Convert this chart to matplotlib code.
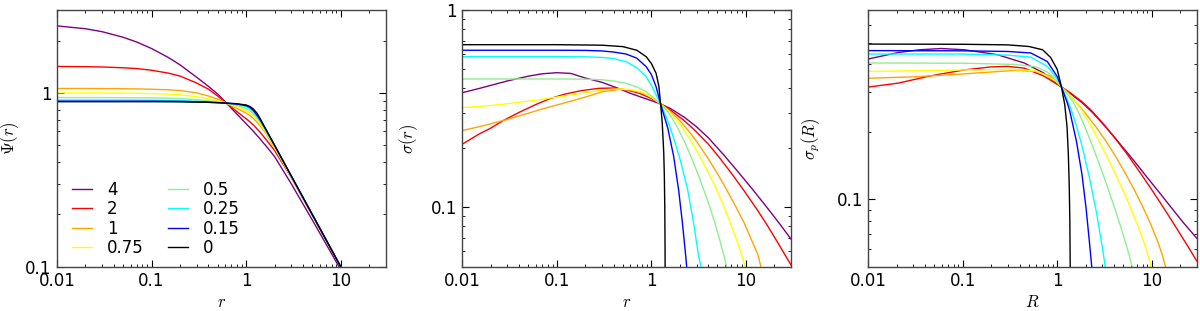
import matplotlib
matplotlib.use('Agg')
import matplotlib.pyplot as plt
from matplotlib.ticker import FuncFormatter, NullFormatter, LogLocator

# parameter values and their colours (legend order)
labels = ['4', '2', '1', '0.75', '0.5', '0.25', '0.15', '0']
colors = ['purple', 'red', 'orange', 'yellow', 'lightgreen', 'cyan', 'blue', 'black']

# --- panel 1: potential Psi(r), common radius grid ---
r_psi = [0.01, 0.02, 0.03, 0.05, 0.07, 0.1, 0.15, 0.2, 0.3, 0.4, 0.5, 0.62, 0.8,
         1.0, 1.1, 1.2, 1.3, 1.4, 1.5, 1.6, 2.0, 3.0, 5.0, 7.0, 10.0, 11.0]
psi_4 = [2.43, 2.34, 2.25, 2.09, 1.96, 1.8, 1.6, 1.45, 1.23, 1.09, 0.985, 0.873, 0.755,
         0.665, 0.63, 0.6, 0.57, 0.545, 0.52, 0.5, 0.43, 0.3, 0.186, 0.135, 0.096, 0.087]
psi_2 = [1.42, 1.415, 1.41, 1.395, 1.38, 1.35, 1.3, 1.25, 1.14, 1.05, 0.96, 0.873, 0.78,
         0.71, 0.68, 0.652, 0.622, 0.595, 0.568, 0.545, 0.466, 0.327, 0.198, 0.142, 0.099, 0.09]
psi_1 = [1.06, 1.06, 1.059, 1.057, 1.054, 1.05, 1.042, 1.032, 1.0, 0.96, 0.92, 0.873, 0.815,
         0.765, 0.74, 0.71, 0.68, 0.648, 0.618, 0.59, 0.481, 0.328, 0.199, 0.142, 0.1, 0.091]
psi_075 = [1.0, 1.0, 0.999, 0.997, 0.995, 0.991, 0.984, 0.975, 0.95, 0.925, 0.9, 0.873, 0.83,
           0.79, 0.765, 0.735, 0.7, 0.665, 0.63, 0.6, 0.487, 0.329, 0.199, 0.142, 0.1, 0.091]
psi_05 = [0.94, 0.94, 0.94, 0.939, 0.938, 0.936, 0.932, 0.927, 0.914, 0.9, 0.887, 0.873, 0.847,
          0.815, 0.79, 0.758, 0.72, 0.683, 0.645, 0.61, 0.494, 0.332, 0.2, 0.143, 0.1, 0.091]
psi_025 = [0.91, 0.91, 0.91, 0.91, 0.909, 0.908, 0.906, 0.903, 0.896, 0.889, 0.882, 0.873, 0.858,
           0.835, 0.81, 0.775, 0.735, 0.695, 0.655, 0.617, 0.497, 0.333, 0.2, 0.143, 0.1, 0.091]
psi_015 = [0.896, 0.896, 0.896, 0.896, 0.896, 0.896, 0.895, 0.894, 0.889, 0.884, 0.879, 0.873, 0.863,
           0.845, 0.825, 0.79, 0.745, 0.703, 0.66, 0.621, 0.499, 0.333, 0.2, 0.143, 0.1, 0.091]
psi_0 = [0.89, 0.89, 0.89, 0.89, 0.89, 0.89, 0.889, 0.888, 0.885, 0.882, 0.878, 0.873, 0.866,
         0.852, 0.835, 0.805, 0.765, 0.716, 0.667, 0.625, 0.5, 0.333, 0.2, 0.143, 0.1, 0.091]
psi_all = [psi_4, psi_2, psi_1, psi_075, psi_05, psi_025, psi_015, psi_0]

# --- panel 2: sigma(r), each curve on its own radii ---
sr_4 = [0.01, 0.015, 0.02, 0.03, 0.05, 0.07, 0.1, 0.14, 0.2, 0.3, 0.45, 0.6, 0.8, 1.0, 1.25,
        1.6, 2.23, 2.97, 4.0, 5.9, 8.0, 11.7, 16.0, 21.5, 30.0]
s_4 = [0.381, 0.4, 0.415, 0.437, 0.462, 0.475, 0.481, 0.477, 0.452, 0.43, 0.4, 0.378, 0.36, 0.347, 0.334,
       0.316, 0.286, 0.257, 0.225, 0.183, 0.154, 0.1236, 0.1024, 0.0854, 0.069]
sr_2 = [0.01, 0.015, 0.02, 0.027, 0.04, 0.06, 0.084, 0.12, 0.18, 0.28, 0.4, 0.55, 0.75, 1.0, 1.25,
        1.6, 2.14, 2.8, 4.0, 5.22, 7.0, 9.59, 13.0, 16.3, 21.0, 26.4, 30.0]
s_2 = [0.209, 0.235, 0.252, 0.275, 0.303, 0.332, 0.355, 0.374, 0.39, 0.401, 0.402, 0.393, 0.378, 0.356, 0.334,
       0.31, 0.279, 0.249, 0.209, 0.179, 0.149, 0.121, 0.098, 0.083, 0.068, 0.0565, 0.051]
sr_1 = [0.01, 0.015, 0.02, 0.03, 0.05, 0.07, 0.1, 0.15, 0.2, 0.3, 0.46, 0.6, 0.8, 1.0, 1.25,
        1.5, 1.94, 2.42, 3.0, 3.94, 5.0, 6.14, 7.7, 9.44, 11.5, 13.3, 14.4, 15.5]
s_1 = [0.245, 0.256, 0.265, 0.279, 0.3, 0.315, 0.33, 0.348, 0.362, 0.385, 0.396, 0.393, 0.38, 0.36, 0.334,
       0.313, 0.279, 0.247, 0.216, 0.178, 0.148, 0.1246, 0.102, 0.0846, 0.068, 0.058, 0.05, 0.044]
sr_075 = [0.01, 0.02, 0.03, 0.05, 0.1, 0.2, 0.3, 0.45, 0.6, 0.8, 1.0, 1.25, 1.5, 1.78, 2.14,
          2.6, 3.21, 4.0, 4.74, 5.6, 6.67, 8.0, 9.06, 9.82, 10.5]
s_075 = [0.32, 0.328, 0.335, 0.345, 0.362, 0.38, 0.393, 0.398, 0.395, 0.383, 0.362, 0.334, 0.309, 0.283, 0.252,
         0.219, 0.183, 0.15, 0.127, 0.106, 0.086, 0.068, 0.057, 0.05, 0.0445]
sr_05 = [0.01, 0.1, 0.2, 0.3, 0.4, 0.54, 0.7, 0.88, 1.05, 1.25, 1.45, 1.64, 1.9, 2.25, 2.63,
         3.1, 3.57, 4.1, 4.7, 5.3, 5.9, 6.29, 6.6]
s_05 = [0.447, 0.447, 0.446, 0.443, 0.436, 0.425, 0.407, 0.385, 0.36, 0.334, 0.31, 0.285, 0.252, 0.214, 0.18,
        0.148, 0.123, 0.102, 0.083, 0.068, 0.056, 0.049, 0.044]
sr_025 = [0.01, 0.1, 0.2, 0.3, 0.4, 0.54, 0.7, 0.88, 1.0, 1.12, 1.25, 1.4, 1.55, 1.7, 1.85,
          2.03, 2.42, 2.8, 3.16, 3.35, 3.5]
s_025 = [0.58, 0.58, 0.579, 0.575, 0.567, 0.547, 0.51, 0.459, 0.415, 0.372, 0.334, 0.295, 0.26, 0.228, 0.2,
         0.172, 0.1225, 0.083, 0.0562, 0.05, 0.046]
sr_015 = [0.01, 0.1, 0.2, 0.3, 0.4, 0.54, 0.7, 0.88, 1.0, 1.12, 1.2, 1.25, 1.35, 1.49, 1.72,
          1.94, 2.13, 2.31, 2.36, 2.42]
s_015 = [0.625, 0.625, 0.624, 0.62, 0.612, 0.598, 0.57, 0.516, 0.47, 0.409, 0.36, 0.334, 0.295, 0.252, 0.181,
         0.1225, 0.083, 0.0562, 0.05, 0.044]
sr_0 = [0.01, 0.1, 0.3, 0.5, 0.7, 0.88, 1.0, 1.12, 1.2, 1.25, 1.3, 1.35, 1.37, 1.385, 1.395, 1.399]
s_0 = [0.667, 0.667, 0.663, 0.652, 0.625, 0.58, 0.535, 0.478, 0.41, 0.334, 0.27, 0.19, 0.145, 0.1, 0.06, 0.027]
sig_r = [sr_4, sr_2, sr_1, sr_075, sr_05, sr_025, sr_015, sr_0]
sig_v = [s_4, s_2, s_1, s_075, s_05, s_025, s_015, s_0]

# --- panel 3: projected sigma_p(R) ---
pr_4 = [0.01, 0.0207, 0.035, 0.059, 0.104, 0.233, 0.447, 0.72, 1.11, 1.4, 1.83, 2.34, 3.3,
        4.65, 6.5, 9.22, 13.0, 16.9, 22.0, 30.0]
p_4 = [0.423, 0.452, 0.465, 0.471, 0.465, 0.442, 0.406, 0.366, 0.317, 0.295, 0.27, 0.245, 0.209,
       0.176, 0.1485, 0.1233, 0.103, 0.0895, 0.078, 0.067]
pr_2 = [0.01, 0.0207, 0.046, 0.104, 0.2, 0.3, 0.447, 0.72, 1.11, 1.4, 1.8, 2.24, 3.0, 4.11,
        5.5, 7.54, 10.0, 12.8, 16.5, 20.7, 25.0, 30.0]
p_2 = [0.317, 0.33, 0.356, 0.378, 0.39, 0.392, 0.385, 0.355, 0.317, 0.297, 0.274, 0.252, 0.22, 0.187,
       0.159, 0.1315, 0.1104, 0.0942, 0.0797, 0.0684, 0.0602, 0.053]
pr_1 = [0.01, 0.03, 0.104, 0.35, 0.6, 0.85, 1.11, 1.35, 1.66, 1.99, 2.6, 3.23, 4.1, 5.16, 6.5,
        7.98, 9.8, 11.8, 13.0, 14.1, 15.0]
p_1 = [0.347, 0.352, 0.363, 0.376, 0.372, 0.355, 0.317, 0.292, 0.265, 0.242, 0.209, 0.1835, 0.1565,
       0.1325, 0.1107, 0.0932, 0.0772, 0.0635, 0.056, 0.0495, 0.0445]
pr_075 = [0.01, 0.104, 0.35, 0.6, 0.785, 1.0, 1.11, 1.3, 1.56, 1.83, 2.3, 2.75, 3.4, 4.11, 5.0,
          5.92, 7.0, 8.18, 9.0, 9.85, 10.5]
p_075 = [0.372, 0.378, 0.38, 0.374, 0.355, 0.333, 0.317, 0.298, 0.273, 0.249, 0.211, 0.183, 0.1535,
         0.1303, 0.1088, 0.0924, 0.0777, 0.0652, 0.0575, 0.0503, 0.045]
pr_05 = [0.01, 0.1, 0.35, 0.6, 0.785, 0.9, 1.0, 1.11, 1.3, 1.46, 1.66, 1.95, 2.3, 2.7, 3.1, 3.6,
         4.11, 4.7, 5.33, 5.9, 6.31, 6.7]
p_05 = [0.406, 0.405, 0.4, 0.39, 0.37, 0.353, 0.336, 0.317, 0.293, 0.273, 0.247, 0.212, 0.178, 0.149,
        0.127, 0.106, 0.0898, 0.0754, 0.0633, 0.0544, 0.0488, 0.0438]
pr_025 = [0.01, 0.1, 0.3, 0.525, 0.785, 1.0, 1.11, 1.25, 1.4, 1.6, 1.83, 2.21, 2.6, 2.98, 3.28, 3.4]
p_025 = [0.445, 0.445, 0.44, 0.431, 0.392, 0.345, 0.317, 0.284, 0.252, 0.212, 0.173, 0.123, 0.0875,
         0.0623, 0.0476, 0.0427]
pr_015 = [0.01, 0.1, 0.3, 0.525, 0.785, 1.0, 1.11, 1.275, 1.35, 1.6, 1.83, 2.02, 2.19, 2.34, 2.42]
p_015 = [0.461, 0.46, 0.457, 0.45, 0.412, 0.353, 0.317, 0.27, 0.25, 0.181, 0.1285, 0.0912, 0.0646,
         0.048, 0.04]
pr_0 = [0.01, 0.1, 0.3, 0.5, 0.7, 0.85, 1.0, 1.1, 1.2, 1.27, 1.31, 1.34, 1.36, 1.372, 1.378]
p_0 = [0.493, 0.492, 0.489, 0.481, 0.465, 0.43, 0.38, 0.322, 0.265, 0.211, 0.16, 0.115, 0.08, 0.05, 0.02]
sp_r = [pr_4, pr_2, pr_1, pr_075, pr_05, pr_025, pr_015, pr_0]
sp_v = [p_4, p_2, p_1, p_075, p_05, p_025, p_015, p_0]

plt.rcParams['mathtext.fontset'] = 'cm'
plt.rcParams['font.size'] = 12
plt.rcParams['xtick.direction'] = 'in'
plt.rcParams['ytick.direction'] = 'in'
plt.rcParams['xtick.top'] = True
plt.rcParams['ytick.right'] = True
plt.rcParams['xtick.major.size'] = 5
plt.rcParams['ytick.major.size'] = 5
plt.rcParams['xtick.minor.size'] = 2.5
plt.rcParams['ytick.minor.size'] = 2.5
plt.rcParams['axes.edgecolor'] = '#444444'
plt.rcParams['axes.linewidth'] = 1.0

fig = plt.figure(figsize=(12, 3.11), dpi=100)
ax1 = fig.add_axes([0.0475, 0.1425, 0.274, 0.8254])
ax2 = fig.add_axes([0.3853, 0.1425, 0.2739, 0.8254])
ax3 = fig.add_axes([0.7236, 0.1425, 0.2737, 0.8254])

fmt = FuncFormatter(lambda v, p: '%g' % v)

for lab, col, ys in zip(labels, colors, psi_all):
    ax1.plot(r_psi, ys, color=col, lw=1.0, label=lab)
for col, xs, ys in zip(colors, sig_r, sig_v):
    ax2.plot(xs, ys, color=col, lw=1.0)
for col, xs, ys in zip(colors, sp_r, sp_v):
    ax3.plot(xs, ys, color=col, lw=1.0)

ax1.set_ylim(0.1, 3.0)
ax2.set_ylim(0.05, 1.0)
ax3.set_ylim(0.05, 0.7)
for ax in (ax1, ax2, ax3):
    ax.set_xscale('log')
    ax.set_yscale('log')
    ax.set_xlim(0.01, 30)
    ax.xaxis.set_major_locator(LogLocator(base=10, numticks=10))
    ax.yaxis.set_major_locator(LogLocator(base=10, numticks=10))
    ax.xaxis.set_major_formatter(fmt)
    ax.yaxis.set_major_formatter(fmt)
    ax.xaxis.set_minor_formatter(NullFormatter())
    ax.yaxis.set_minor_formatter(NullFormatter())
    ax.tick_params(labelsize=12, pad=4)

ax1.set_xlabel(r'$r$', labelpad=2)
ax1.set_ylabel(r'$\Psi(r)$')
ax2.set_xlabel(r'$r$', labelpad=2)
ax2.set_ylabel(r'$\sigma(r)$')
ax3.set_xlabel(r'$R$', labelpad=2)
ax3.set_ylabel(r'$\sigma_p(R)$')
ax1.yaxis.set_label_coords(-0.11, 0.5)
ax2.yaxis.set_label_coords(-0.128, 0.5)
ax3.yaxis.set_label_coords(-0.14, 0.5)

ax1.legend(ncol=2, frameon=False, loc='lower left', bbox_to_anchor=(0.046, 0.037),
           fontsize=12, handlelength=1.2, handletextpad=0.9, columnspacing=1.45,
           labelspacing=0.09, borderpad=0.0, borderaxespad=0.0)

fig.savefig('out.png', dpi=100, facecolor='white')
